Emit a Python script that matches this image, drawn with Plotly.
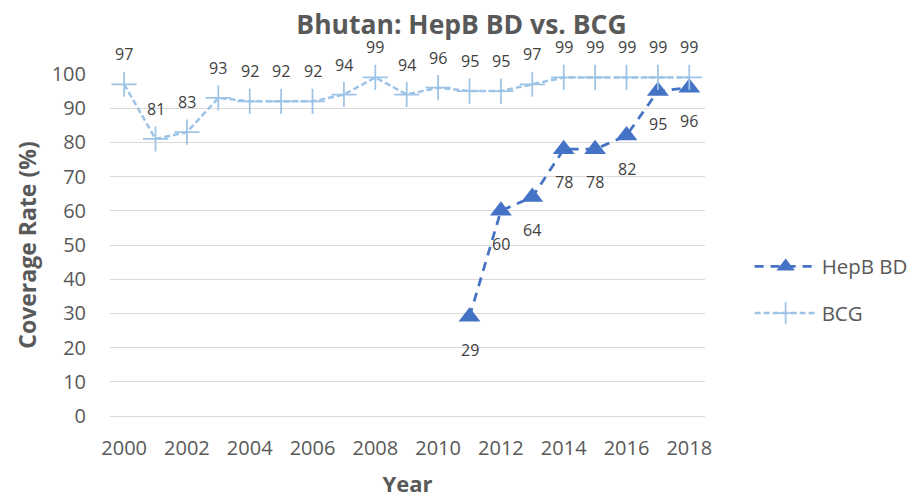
import plotly.graph_objects as go

bcg_years = list(range(2000, 2019))
bcg_values = [97, 81, 83, 93, 92, 92, 92, 94, 99, 94, 96, 95, 95, 97, 99, 99, 99, 99, 99]
hepb_years = list(range(2011, 2019))
hepb_values = [29, 60, 64, 78, 78, 82, 95, 96]

HEPB_COLOR = "#4472C4"
BCG_COLOR = "#9DC3E6"
FONT = "Open Sans, Noto Sans, sans-serif"

fig = go.Figure()
fig.add_trace(go.Scatter(
    x=hepb_years, y=hepb_values, name="HepB BD", mode="lines+markers",
    line=dict(color=HEPB_COLOR, width=2.75, dash="9px,7px"),
    marker=dict(symbol="triangle-up", size=19, color=HEPB_COLOR),
    cliponaxis=False, legendgroup="a",
))
fig.add_trace(go.Scatter(
    x=bcg_years, y=bcg_values, name="BCG", mode="lines+markers",
    line=dict(color=BCG_COLOR, width=2.5, dash="6px,3px"),
    marker=dict(symbol="cross-thin", size=18, line=dict(color=BCG_COLOR, width=1.75)),
    cliponaxis=False, legendgroup="b",
))

annotations = []
for x, y in zip(bcg_years, bcg_values):
    annotations.append(dict(x=x, y=y, text=str(y), showarrow=False, yshift=30,
                            font=dict(size=16, color="#404040", family=FONT)))
for x, y in zip(hepb_years, hepb_values):
    annotations.append(dict(x=x, y=y, text=str(y), showarrow=False, yshift=-33,
                            font=dict(size=16, color="#404040", family=FONT)))

fig.update_layout(
    width=907, height=490,
    margin=dict(l=102, r=210, t=66, b=82, autoexpand=False),
    paper_bgcolor="white", plot_bgcolor="white",
    font=dict(family=FONT, color="#595959"),
    title=dict(text="<b>Bhutan: HepB BD vs. BCG</b>", x=0.5, xref="container",
               xanchor="center", y=0.966, yref="container", yanchor="middle",
               font=dict(size=26.5, color="#595959", family=FONT)),
    xaxis=dict(range=[1999.55, 2018.5], tickmode="linear", tick0=2000, dtick=2,
               showgrid=False, zeroline=False, showline=False,
               ticks="outside", ticklen=14, tickcolor="rgba(0,0,0,0)",
               tickfont=dict(size=20, color="#595959"), automargin=False,
               title=dict(text="<b>Year</b>", font=dict(size=22, color="#595959"), standoff=21)),
    yaxis=dict(range=[0, 100], tickmode="linear", tick0=0, dtick=10,
               showgrid=True, gridcolor="#D9D9D9", gridwidth=1.3,
               zeroline=True, zerolinecolor="#D9D9D9", zerolinewidth=1.3,
               ticks="outside", ticklen=19, tickcolor="rgba(0,0,0,0)",
               tickfont=dict(size=20, color="#595959"), automargin=False,
               title=dict(text="<b>Coverage Rate (%)</b>", font=dict(size=23, color="#595959"), standoff=8)),
    legend=dict(x=1.075, y=0.368, xanchor="left", yanchor="middle",
                font=dict(size=20.5, color="#595959"), tracegroupgap=17,
                itemwidth=62, bgcolor="rgba(0,0,0,0)"),
    annotations=annotations,
)

fig.write_html("out.html")
